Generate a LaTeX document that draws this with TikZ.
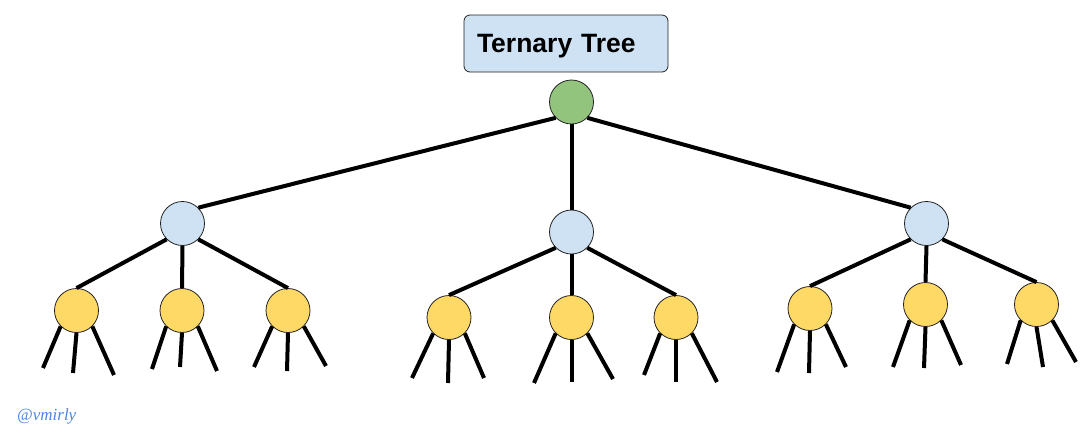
\documentclass[tikz,border=0pt]{standalone}
\usepackage{fontspec}
\newfontfamily\arialfont{Liberation Sans}
\newfontfamily\sigfont{Liberation Serif}
\definecolor{rootgreen}{HTML}{93C47D}
\definecolor{midblue}{HTML}{CFE2F3}
\definecolor{leafyellow}{HTML}{FFD966}
\definecolor{sigblue}{HTML}{4A86E8}
\definecolor{rim}{HTML}{222222}
\tikzset{
  treenode/.style={circle, draw=rim, line width=0.8pt, inner sep=0pt},
  rootnode/.style={treenode, fill=rootgreen, minimum size=44pt},
  midnode/.style={treenode, fill=midblue, minimum size=44pt},
  leafnode/.style={treenode, fill=leafyellow, minimum size=44pt},
  edge/.style={line width=4pt, black},
  titlebox/.style={draw=rim, line width=0.8pt, fill=midblue, rounded corners=6pt,
    minimum width=204pt, minimum height=57pt, inner xsep=13pt, inner ysep=0pt,
    text width=178pt, align=left, text depth=0pt,
    font=\arialfont\bfseries\fontsize{26.5}{30}\selectfont},
}
\newcommand{\leafstubs}[7]{%
  \path (#1) ++(#2,#3) coordinate (#1a);
  \path (#1) ++(#4,#5) coordinate (#1b);
  \path (#1) ++(#6,#7) coordinate (#1c);
  \draw[edge] (#1.-135) -- (#1a);
  \draw[edge] (#1.south) -- (#1b);
  \draw[edge] (#1.-45) -- (#1c);
}
\begin{document}
\begin{tikzpicture}[x=1pt,y=-1pt]
\useasboundingbox (0,0) rectangle (1089,440);
\node[titlebox] (title) at (566,43.5) {Ternary Tree};
\node[rootnode] (root) at (571.5,102) {};
\node[midnode] (A) at (182.5,223.5) {};
\node[midnode] (B) at (571.5,232) {};
\node[midnode] (C) at (926.5,223.5) {};
\node[leafnode] (L1) at (76.5,310.5) {};
\node[leafnode] (L2) at (182,310.5) {};
\node[leafnode] (L3) at (288,310.5) {};
\node[leafnode] (M1) at (449,317.5) {};
\node[leafnode] (M2) at (571.5,317.5) {};
\node[leafnode] (M3) at (676,317.5) {};
\node[leafnode] (R1) at (810,308.5) {};
\node[leafnode] (R2) at (925.5,304.5) {};
\node[leafnode] (R3) at (1036.5,304.5) {};
\draw[edge] (root.-135) -- (A.45);
\draw[edge] (root.south) -- (B.north);
\draw[edge] (root.-45) -- (C.135);
\foreach \p/\a/\b/\c in {A/L1/L2/L3, B/M1/M2/M3, C/R1/R2/R3}{
  \draw[edge] (\p.-135) -- (\a.north);
  \draw[edge] (\p.south) -- (\b.north);
  \draw[edge] (\p.-45) -- (\c.north);
}
\leafstubs{L1}{-33.5}{57.5}{-3.5}{62.5}{37.5}{64.5}
\leafstubs{L2}{-30}{58.5}{-2}{56.5}{35}{60.5}
\leafstubs{L3}{-34}{56.5}{-1}{60.5}{38}{55.5}
\leafstubs{M1}{-37}{60.5}{-1}{65.5}{35}{60.5}
\leafstubs{M2}{-37.5}{65.5}{0}{64.5}{41.5}{61.5}
\leafstubs{M3}{-32}{57.5}{0}{64.5}{41}{64.5}
\leafstubs{R1}{-33}{63.5}{-1}{64.5}{36}{58.5}
\leafstubs{R2}{-32.5}{62.5}{-1.5}{63.5}{35.5}{60.5}
\leafstubs{R3}{-29.5}{59.5}{6.5}{62.5}{39.5}{57.5}
\node[anchor=base west, inner sep=0pt, text=sigblue, font=\sigfont\itshape\fontsize{17}{20}\selectfont] (sig) at (17,420) {@vmirly};
\end{tikzpicture}
\end{document}
